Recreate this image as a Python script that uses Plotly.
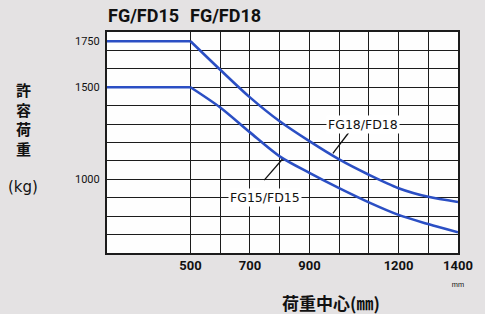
import plotly.graph_objects as go

# ---- data ----
load_center = [500, 600, 700, 800, 900, 1000, 1100, 1200, 1300, 1400]
fg18_fd18 = [1750, 1595, 1445, 1315, 1207, 1108, 1025, 952, 905, 877]
fg15_fd15 = [1500, 1390, 1255, 1125, 1035, 952, 875, 807, 757, 712]
x_min, x_max = 219, 1400
y_min, y_max = 600, 1800
x_grid = list(range(500, 1401, 100))
x_labels = ["<b>500</b>", "", "<b>700</b>", "", "<b>900</b>", "", "", "<b>1200</b>", "",
            "<b>1400</b><br><span style='font-size:7px'>mm</span>"]
y_grid = list(range(600, 1801, 100))
y_labels = [1750, 1500, 1000]
series_names = ["FG18/FD18", "FG15/FD15"]
titles = ["FG/FD15", "FG/FD18"]
y_title = "許容荷重"

W, H = 485, 314
L, R, T, B = 107, 25, 32, 61
PW, PH = W - L - R, H - T - B

def px(xp):
    return (xp - L) / PW

def py(yp):
    return (H - B - yp) / PH

blue = "#2b4fc4"
grid_c = "#1c1c1c"
cond = "Roboto, Liberation Sans, sans-serif"
cjk = "Noto Sans CJK JP, Noto Sans CJK SC, sans-serif"

fig = go.Figure()
for vals in (fg18_fd18, fg15_fd15):
    # flat part up to 500 mm
    fig.add_trace(go.Scatter(x=[x_min, load_center[0]], y=[vals[0], vals[0]], mode="lines",
                             line=dict(color=blue, width=2.6), showlegend=False, hoverinfo="skip"))
    fig.add_trace(go.Scatter(x=load_center, y=vals, mode="lines",
                             line=dict(color=blue, width=2.6, shape="spline", smoothing=0.8),
                             showlegend=False))

ann = []
# title
for t, xc in zip(titles, [144, 226]):
    ann.append(dict(text="<b>" + t + "</b>", x=px(xc), y=py(15), xref="paper", yref="paper",
                    xanchor="center", yanchor="middle", showarrow=False,
                    font=dict(family=cond, size=18, color="#111")))
# y tick labels
for v in y_labels:
    ann.append(dict(text=str(v), x=px(102), y=v, xref="paper", yref="y", xanchor="right",
                    yanchor="middle", showarrow=False,
                    font=dict(family=cond, size=11, color="#111")))
# y title (vertical stacked)
ann.append(dict(text="<b>" + "<br>".join(y_title) + "</b>", x=px(23), y=py(118.5),
                xref="paper", yref="paper", xanchor="center", yanchor="middle",
                showarrow=False, font=dict(family=cjk, size=15, color="#111")))
ann.append(dict(text="(kg)", x=px(23), y=py(187), xref="paper", yref="paper",
                xanchor="center", yanchor="middle", showarrow=False,
                font=dict(family="DejaVu Sans, sans-serif", size=15, color="#111")))
# x title
ann.append(dict(text="<b>荷重中心(㎜)</b>", x=px(332), y=py(302), xref="paper", yref="paper",
                xanchor="center", yanchor="middle", showarrow=False,
                font=dict(family=cjk, size=17, color="#111")))
# series labels
ann.append(dict(text=series_names[0], x=1082, y=1300, xref="x", yref="y", showarrow=False,
                bgcolor="white", borderpad=1,
                font=dict(family="DejaVu Sans, sans-serif", size=12.5, color="#111")))
ann.append(dict(text=series_names[1], x=751, y=900, xref="x", yref="y", showarrow=False,
                bgcolor="white", borderpad=1,
                font=dict(family="DejaVu Sans, sans-serif", size=12.5, color="#111")))

shapes = [
    dict(type="line", xref="x", yref="y", x0=1032, y0=1253, x1=979, y1=1141,
         line=dict(color="#111", width=1.3)),
    dict(type="line", xref="x", yref="y", x0=809, y0=1109, x1=748, y1=996,
         line=dict(color="#111", width=1.3)),
]

fig.update_layout(
    width=W, height=H, margin=dict(l=L, r=R, t=T, b=B),
    paper_bgcolor="#e4e2e3", plot_bgcolor="#fefefe",
    annotations=ann, shapes=shapes, showlegend=False,
    xaxis=dict(range=[x_min, x_max], tickvals=x_grid, ticktext=x_labels, showgrid=True,
               gridcolor=grid_c, gridwidth=1.3, showline=True, mirror=True, linecolor=grid_c,
               linewidth=1.5, ticks="", zeroline=False,
               tickfont=dict(family=cond, size=13, color="#111")),
    yaxis=dict(range=[y_min, y_max], tickvals=y_grid, showticklabels=False, showgrid=True,
               gridcolor=grid_c, gridwidth=1.3, showline=True, mirror=True, linecolor=grid_c,
               linewidth=1.5, ticks="", zeroline=False),
)
fig.write_html("out.html", config={"displayModeBar": False},
               post_script="document.body.style.margin='0';document.body.style.background='#e4e2e3';document.body.style.overflow='hidden';")
